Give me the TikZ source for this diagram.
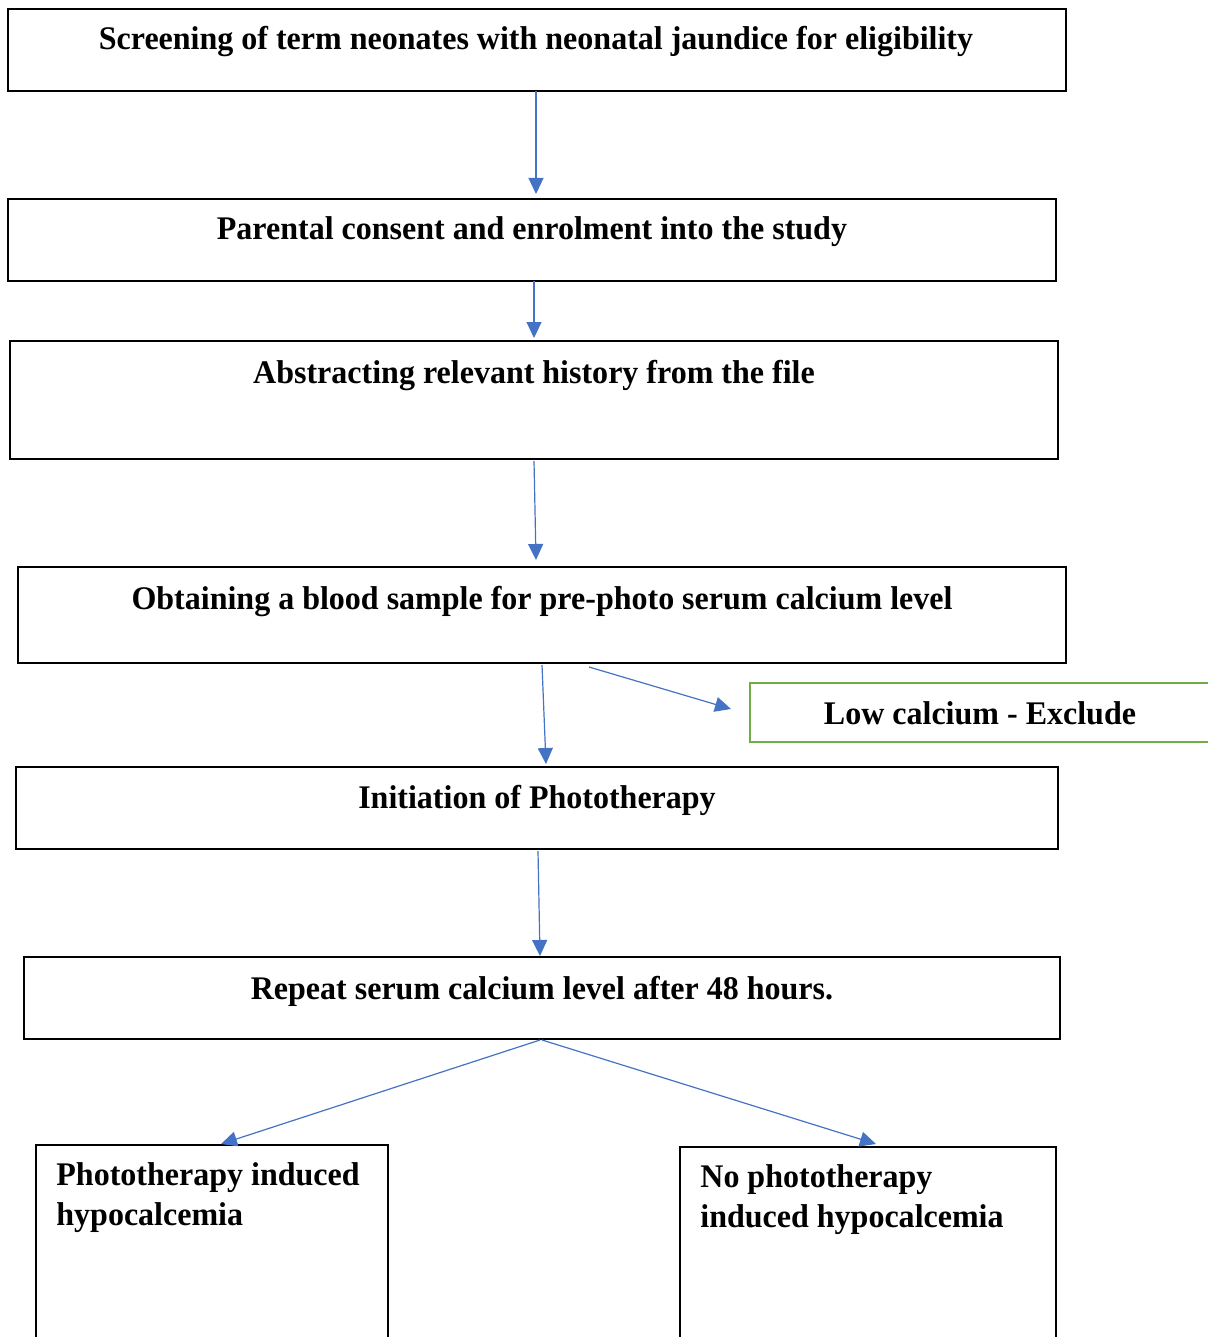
\documentclass[tikz,border=0pt]{standalone}
\usepackage{fontspec}
\setmainfont{Liberation Serif}[FakeStretch=0.97]
\usetikzlibrary{arrows.meta,calc}
\definecolor{arrowblue}{HTML}{4472C4}
\definecolor{boxgreen}{HTML}{70AD47}
\tikzset{
  flowbox/.style={draw=black, line width=1pt, fill=none},
  exbox/.style={draw=boxgreen, line width=1.4pt},
  lbl/.style={font=\fontsize{16.5pt}{19.5pt}\selectfont\bfseries, anchor=base, inner sep=0pt},
  lbll/.style={font=\fontsize{16.5pt}{19.75pt}\selectfont\bfseries, anchor=base west, inner sep=0pt, align=left},
  flow/.style={draw=arrowblue, line width=0.6pt, -{Triangle[width=7.5pt,length=8pt]}}
}
\begin{document}
\begin{tikzpicture}[x=0.5pt,y=-0.5pt]
\useasboundingbox (0,0) rectangle (1208,1337);
% boxes
\draw[flowbox] (8,9) rectangle (1066,91);
\draw[flowbox] (8,199) rectangle (1056,281);
\draw[flowbox] (10,341) rectangle (1058,459);
\draw[flowbox] (18,567) rectangle (1066,663);
\draw[exbox] (750,683) rectangle (1214,742);
\draw[flowbox] (16,767) rectangle (1058,849);
\draw[flowbox] (24,957) rectangle (1060,1039);
\draw[flowbox] (36,1145) rectangle (388,1350);
\draw[flowbox] (680,1147) rectangle (1056,1350);
% labels
\node[lbl] (t1) at (536,50) {Screening of term neonates with neonatal jaundice for eligibility};
\node[lbl] (t2) at (532,240) {Parental consent and enrolment into the study};
\node[lbl] (t3) at (534,383) {Abstracting relevant history from the file};
\node[lbl] (t4) at (542,609) {Obtaining a blood sample for pre-photo serum calcium level};
\node[lbl] (t5) at (980,724) {Low calcium - Exclude};
\node[lbl] (t6) at (537,808) {Initiation of Phototherapy};
\node[lbl] (t7) at (542,999) {Repeat serum calcium level after 48 hours.};
\node[lbll] (t8) at (56,1225) {Phototherapy induced\\hypocalcemia};
\node[lbll] (t9) at (700,1227) {No phototherapy\\induced hypocalcemia};
% arrow end points
\coordinate (a1s) at (536,91);  \coordinate (a1e) at (536,194);
\coordinate (a2s) at (534,281); \coordinate (a2e) at (534,338);
\coordinate (a3s) at (534,461); \coordinate (a3e) at (536,560);
\coordinate (a4s) at (542,665); \coordinate (a4e) at (546,764);
\coordinate (a5s) at (589,667); \coordinate (a5e) at (731,709);
\coordinate (a6s) at (538,851); \coordinate (a6e) at (540,956);
\coordinate (a7s) at (540,1040); \coordinate (a7e) at (221,1144);
\coordinate (a8s) at (542,1040); \coordinate (a8e) at (876,1144);
\draw[flow] (a1s) -- (a1e);
\draw[flow] (a2s) -- (a2e);
\draw[flow] (a3s) -- (a3e);
\draw[flow] (a4s) -- (a4e);
\draw[flow] (a5s) -- (a5e);
\draw[flow] (a6s) -- (a6e);
\draw[flow] (a7s) -- (a7e);
\draw[flow] (a8s) -- (a8e);
\end{tikzpicture}
\end{document}
